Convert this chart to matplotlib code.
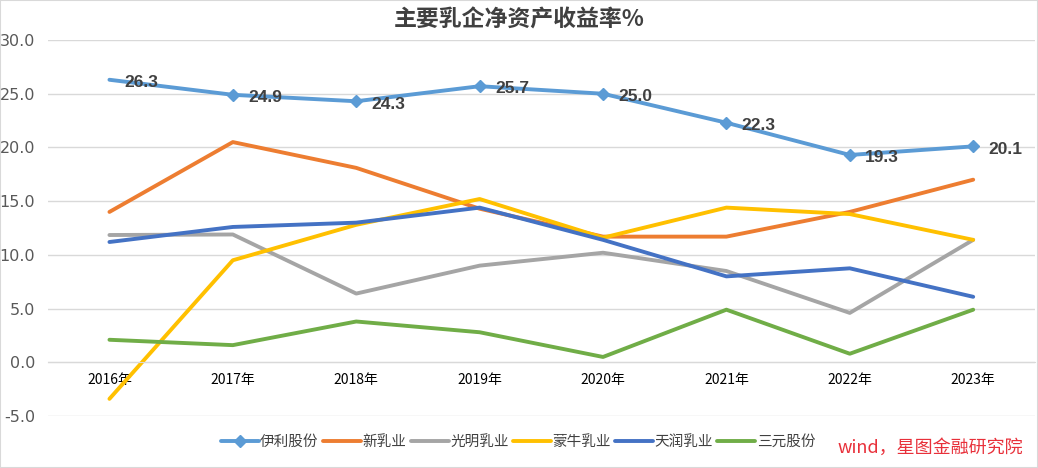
import matplotlib
matplotlib.use("Agg")
import matplotlib.pyplot as plt
from matplotlib.patches import Rectangle

plt.rcParams["font.family"] = ["Noto Sans CJK SC", "DejaVu Sans"]

years = ["2016年", "2017年", "2018年", "2019年", "2020年", "2021年", "2022年", "2023年"]
yiliValues = [26.3, 24.9, 24.3, 25.7, 25.0, 22.3, 19.3, 20.1]
xinruValues = [14.0, 20.5, 18.1, 14.3, 11.7, 11.7, 14.0, 17.0]
guangmingValues = [11.85, 11.9, 6.4, 9.0, 10.2, 8.5, 4.6, 11.4]
mengniuValues = [-3.4, 9.5, 12.8, 15.2, 11.6, 14.4, 13.8, 11.4]
tianrunValues = [11.2, 12.6, 13.0, 14.4, 11.4, 8.0, 8.75, 6.1]
sanyuanValues = [2.1, 1.6, 3.8, 2.8, 0.5, 4.9, 0.8, 4.9]
yTicks = [-5.0, 0.0, 5.0, 10.0, 15.0, 20.0, 25.0, 30.0]

seriesList = [
    ("伊利股份", yiliValues, "#5B9BD5"),
    ("新乳业", xinruValues, "#ED7D31"),
    ("光明乳业", guangmingValues, "#A5A5A5"),
    ("蒙牛乳业", mengniuValues, "#FFC000"),
    ("天润乳业", tianrunValues, "#4472C4"),
    ("三元股份", sanyuanValues, "#70AD47"),
]

fig = plt.figure(figsize=(10.38, 4.68), dpi=100)
ax = fig.add_axes([0.046, 0.111, 0.951, 0.8035])
xPositions = list(range(len(years)))

handles = []
for seriesName, seriesValues, seriesColor in seriesList:
    if seriesName == "伊利股份":
        line, = ax.plot(xPositions, seriesValues, color=seriesColor, linewidth=2.8,
                        marker="D", markersize=6, markevery=list(range(1, len(years))),
                        label=seriesName, zorder=3, solid_capstyle="round")
    else:
        line, = ax.plot(xPositions, seriesValues, color=seriesColor, linewidth=2.8,
                        label=seriesName, zorder=2, solid_capstyle="round")
    handles.append(line)

for xIndex, value in zip(xPositions, yiliValues):
    ax.annotate(f"{value:.1f}", (xIndex, value), xytext=(11, -2), textcoords="offset points",
                ha="left", va="center", fontsize=12.5, fontweight="bold", color="#404040",
                family=["Liberation Sans", "DejaVu Sans"], zorder=4)

ax.set_xlim(-0.5, len(years) - 0.5)
ax.set_ylim(-5, 30)
ax.set_yticks(yTicks)
ax.set_yticklabels([f"{tick:.1f}" for tick in yTicks], fontsize=11.5, color="#595959",
                   family=["DejaVu Sans"])
ax.set_xticks(xPositions)
ax.set_xticklabels(years, fontsize=12.5, color="#595959")
ax.tick_params(axis="both", length=0)
ax.tick_params(axis="y", pad=9)
ax.tick_params(axis="x", pad=8)
ax.grid(axis="y", color="#D9D9D9", linewidth=1.0)
ax.set_axisbelow(True)
for spineName in ["top", "right", "left"]:
    ax.spines[spineName].set_visible(False)
ax.spines["bottom"].set_position(("data", 0))
ax.spines["bottom"].set_color("#D9D9D9")

fig.text(0.5, 0.957, "主要乳企净资产收益率%", ha="center", va="center", fontsize=16.5,
         fontweight="bold", color="#404040")

fig.legend(handles=handles, loc="center", bbox_to_anchor=(0.499, 0.055), ncol=6,
           frameon=False, fontsize=10.5, handlelength=2.6, handletextpad=0.1,
           columnspacing=0.3, labelcolor="#404040")

fig.text(0.986, 0.043, "wind，星图金融研究院", ha="right", va="center", fontsize=13,
         color="#E8303A", style="italic")

fig.patches.append(Rectangle((0, 0), 1, 1, transform=fig.transFigure, fill=False,
                             edgecolor="#D9D9D9", linewidth=1.5))

fig.savefig("out.png", dpi=100)
